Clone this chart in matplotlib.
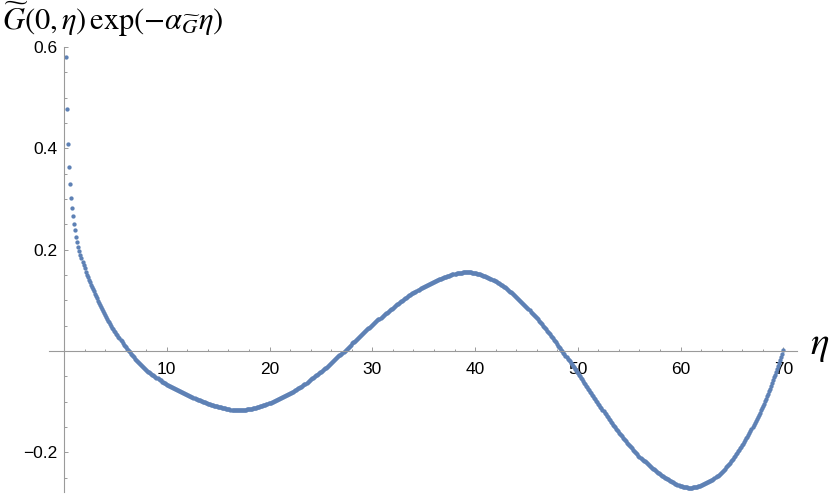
import numpy as np
import matplotlib
matplotlib.use("Agg")
import matplotlib.pyplot as plt
from matplotlib.ticker import MultipleLocator, FixedLocator

plt.rcParams['mathtext.fontset'] = 'stix'
plt.rcParams['font.family'] = ['Liberation Sans', 'DejaVu Sans']

# steep start, eta = 0.2 ... 3.0
eta_start = [0.2, 0.3, 0.4, 0.5, 0.6, 0.7, 0.8, 0.9, 1.0, 1.1,
             1.2, 1.3, 1.4, 1.5, 1.6, 1.7, 1.8, 1.9, 2.0, 2.1,
             2.2, 2.3, 2.4, 2.5, 2.6, 2.7, 2.8, 2.9, 3.0]
g_start = [0.580, 0.477, 0.409, 0.364, 0.329, 0.303, 0.283, 0.266, 0.251, 0.238,
           0.226, 0.215, 0.205, 0.197, 0.190, 0.183, 0.176, 0.169, 0.163, 0.157,
           0.151, 0.146, 0.141, 0.136, 0.131, 0.127, 0.122, 0.118, 0.113]

# rest of the curve, eta = 3.1 ... 70.0 every 0.1 (one row = one unit of eta)
g_rest = [
    0.108, 0.104, 0.099, 0.095, 0.091, 0.087, 0.083, 0.079, 0.075, 0.071,
    0.067, 0.064, 0.060, 0.057, 0.053, 0.050, 0.046, 0.043, 0.040, 0.037,
    0.034, 0.031, 0.028, 0.025, 0.022, 0.019, 0.016, 0.013, 0.011, 0.008,
    0.005, 0.003, 0.000, -0.002, -0.005, -0.007, -0.010, -0.012, -0.015, -0.017,
    -0.019, -0.021, -0.023, -0.025, -0.027, -0.029, -0.031, -0.033, -0.035, -0.037,
    -0.039, -0.041, -0.042, -0.044, -0.045, -0.047, -0.048, -0.050, -0.051, -0.053,
    -0.054, -0.056, -0.057, -0.058, -0.060, -0.061, -0.062, -0.063, -0.065, -0.066,
    -0.067, -0.068, -0.069, -0.070, -0.071, -0.072, -0.073, -0.074, -0.075, -0.076,
    -0.077, -0.078, -0.079, -0.080, -0.081, -0.082, -0.083, -0.084, -0.085, -0.086,
    -0.087, -0.088, -0.089, -0.090, -0.091, -0.092, -0.093, -0.094, -0.095, -0.096,
    -0.097, -0.097, -0.098, -0.099, -0.100, -0.101, -0.101, -0.102, -0.103, -0.104,
    -0.104, -0.105, -0.106, -0.106, -0.107, -0.108, -0.108, -0.109, -0.109, -0.110,
    -0.110, -0.111, -0.111, -0.112, -0.112, -0.113, -0.113, -0.114, -0.114, -0.115,
    -0.115, -0.116, -0.116, -0.117, -0.117, -0.117, -0.117, -0.117, -0.117, -0.117,
    -0.117, -0.117, -0.117, -0.116, -0.116, -0.116, -0.116, -0.115, -0.115, -0.115,
    -0.114, -0.114, -0.114, -0.113, -0.113, -0.112, -0.112, -0.111, -0.111, -0.110,
    -0.109, -0.109, -0.108, -0.107, -0.106, -0.106, -0.105, -0.104, -0.103, -0.103,
    -0.102, -0.101, -0.100, -0.099, -0.098, -0.097, -0.096, -0.095, -0.094, -0.093,
    -0.092, -0.091, -0.090, -0.089, -0.088, -0.087, -0.086, -0.085, -0.084, -0.083,
    -0.082, -0.081, -0.080, -0.078, -0.077, -0.076, -0.074, -0.073, -0.072, -0.071,
    -0.070, -0.068, -0.067, -0.065, -0.064, -0.062, -0.061, -0.059, -0.058, -0.056,
    -0.054, -0.053, -0.051, -0.050, -0.048, -0.047, -0.045, -0.044, -0.042, -0.041,
    -0.039, -0.038, -0.036, -0.034, -0.033, -0.031, -0.029, -0.027, -0.026, -0.024,
    -0.022, -0.020, -0.018, -0.016, -0.014, -0.012, -0.010, -0.008, -0.007, -0.005,
    -0.003, -0.001, 0.001, 0.003, 0.005, 0.007, 0.009, 0.011, 0.013, 0.015,
    0.017, 0.018, 0.020, 0.022, 0.024, 0.026, 0.028, 0.030, 0.032, 0.034,
    0.035, 0.037, 0.039, 0.041, 0.043, 0.045, 0.046, 0.048, 0.050, 0.052,
    0.054, 0.056, 0.057, 0.059, 0.061, 0.063, 0.064, 0.066, 0.068, 0.070,
    0.071, 0.073, 0.075, 0.076, 0.078, 0.080, 0.081, 0.083, 0.084, 0.086,
    0.087, 0.089, 0.090, 0.092, 0.093, 0.095, 0.096, 0.098, 0.099, 0.101,
    0.102, 0.104, 0.105, 0.107, 0.108, 0.110, 0.111, 0.112, 0.114, 0.115,
    0.116, 0.117, 0.119, 0.120, 0.121, 0.122, 0.124, 0.125, 0.126, 0.127,
    0.128, 0.129, 0.130, 0.131, 0.132, 0.133, 0.134, 0.135, 0.136, 0.137,
    0.138, 0.139, 0.140, 0.141, 0.142, 0.143, 0.143, 0.144, 0.145, 0.146,
    0.146, 0.147, 0.148, 0.149, 0.149, 0.150, 0.151, 0.152, 0.152, 0.153,
    0.153, 0.154, 0.154, 0.155, 0.155, 0.155, 0.155, 0.156, 0.156, 0.156,
    0.156, 0.156, 0.156, 0.156, 0.156, 0.156, 0.155, 0.155, 0.155, 0.154,
    0.154, 0.153, 0.153, 0.152, 0.152, 0.151, 0.150, 0.149, 0.149, 0.148,
    0.147, 0.146, 0.145, 0.144, 0.143, 0.142, 0.141, 0.140, 0.139, 0.138,
    0.137, 0.135, 0.134, 0.133, 0.131, 0.130, 0.129, 0.127, 0.126, 0.124,
    0.123, 0.121, 0.119, 0.117, 0.116, 0.114, 0.112, 0.110, 0.109, 0.107,
    0.105, 0.103, 0.101, 0.099, 0.097, 0.095, 0.093, 0.091, 0.089, 0.087,
    0.085, 0.083, 0.081, 0.078, 0.076, 0.074, 0.072, 0.069, 0.067, 0.065,
    0.063, 0.060, 0.058, 0.055, 0.053, 0.050, 0.048, 0.045, 0.043, 0.040,
    0.038, 0.035, 0.033, 0.030, 0.028, 0.025, 0.022, 0.019, 0.017, 0.014,
    0.011, 0.008, 0.006, 0.003, 0.000, -0.003, -0.006, -0.009, -0.012, -0.015,
    -0.017, -0.020, -0.023, -0.026, -0.029, -0.032, -0.035, -0.038, -0.041, -0.044,
    -0.047, -0.050, -0.053, -0.056, -0.059, -0.062, -0.065, -0.068, -0.071, -0.074,
    -0.077, -0.080, -0.083, -0.086, -0.089, -0.092, -0.095, -0.098, -0.101, -0.104,
    -0.107, -0.110, -0.113, -0.116, -0.119, -0.122, -0.125, -0.128, -0.130, -0.133,
    -0.136, -0.139, -0.142, -0.145, -0.147, -0.150, -0.153, -0.156, -0.158, -0.161,
    -0.163, -0.166, -0.168, -0.171, -0.173, -0.176, -0.178, -0.181, -0.183, -0.186,
    -0.188, -0.190, -0.192, -0.195, -0.197, -0.199, -0.201, -0.203, -0.206, -0.208,
    -0.210, -0.212, -0.214, -0.216, -0.217, -0.219, -0.221, -0.223, -0.225, -0.227,
    -0.228, -0.230, -0.232, -0.233, -0.235, -0.237, -0.238, -0.240, -0.241, -0.243,
    -0.244, -0.246, -0.247, -0.248, -0.250, -0.251, -0.252, -0.253, -0.255, -0.256,
    -0.257, -0.258, -0.259, -0.261, -0.262, -0.263, -0.264, -0.265, -0.266, -0.267,
    -0.267, -0.268, -0.268, -0.269, -0.269, -0.269, -0.270, -0.270, -0.270, -0.270,
    -0.270, -0.269, -0.269, -0.269, -0.268, -0.268, -0.267, -0.267, -0.266, -0.265,
    -0.264, -0.263, -0.262, -0.261, -0.260, -0.259, -0.258, -0.257, -0.256, -0.255,
    -0.254, -0.252, -0.251, -0.249, -0.247, -0.246, -0.244, -0.242, -0.240, -0.238,
    -0.236, -0.234, -0.232, -0.229, -0.227, -0.225, -0.222, -0.220, -0.217, -0.215,
    -0.212, -0.209, -0.207, -0.204, -0.201, -0.198, -0.195, -0.192, -0.189, -0.186,
    -0.183, -0.179, -0.176, -0.172, -0.169, -0.165, -0.162, -0.158, -0.154, -0.150,
    -0.146, -0.142, -0.138, -0.134, -0.130, -0.126, -0.122, -0.117, -0.113, -0.108,
    -0.104, -0.099, -0.094, -0.089, -0.084, -0.079, -0.074, -0.069, -0.063, -0.058,
    -0.052, -0.047, -0.041, -0.035, -0.029, -0.023, -0.017, -0.011, -0.005, 0.002,
]
eta_rest = np.linspace(3.1, 70.0, len(g_rest))

x_ticks = [10, 20, 30, 40, 50, 60, 70]
y_ticks = [-0.2, 0.2, 0.4, 0.6]

eta = np.concatenate([eta_start, eta_rest])
g = np.concatenate([g_start, g_rest])

fig = plt.figure(figsize=(8.31, 4.94), dpi=100)
ax = fig.add_axes([49 / 831, 2 / 494, 747.7 / 831, 445 / 494])

ax.plot(eta, g, linestyle='none', marker='o', ms=3.1, mew=0,
        color='#5E81B5', clip_on=False)

ax.set_xlim(-1.46, 71.3)
ax.set_ylim(-0.278, 0.600)

for side in ['top', 'right']:
    ax.spines[side].set_visible(False)
ax.spines['left'].set_position(('data', 0))
ax.spines['bottom'].set_position(('data', 0))
for side in ['left', 'bottom']:
    ax.spines[side].set_color('#9a9a9a')
    ax.spines[side].set_linewidth(0.8)

ax.xaxis.set_major_locator(FixedLocator(x_ticks))
ax.xaxis.set_minor_locator(MultipleLocator(2))
ax.yaxis.set_major_locator(FixedLocator(y_ticks))
ax.yaxis.set_minor_locator(MultipleLocator(0.05))
ax.set_xticklabels([str(t) for t in x_ticks])
ax.set_yticklabels([('\u22120.2' if t < 0 else f'{t:.1f}') for t in y_ticks])

ax.tick_params(which='both', direction='in', color='#9a9a9a', width=0.7,
               labelsize=12.5, labelcolor='black')
ax.tick_params(which='major', length=3.2)
ax.tick_params(which='minor', length=1.8)
ax.tick_params(axis='x', which='major', pad=8)
ax.tick_params(axis='y', which='major', pad=5)

fig.text(2 / 831, 1 - 19 / 494,
         r'$\widetilde{G}(0,\eta)\,\exp(-\alpha_{\widetilde{G}}\eta)$',
         fontsize=22, ha='left', va='center')
fig.text(820 / 831, 1 - 346 / 494, r'$\eta$', fontsize=28,
         ha='center', va='center')

fig.savefig('out.png', dpi=100)
